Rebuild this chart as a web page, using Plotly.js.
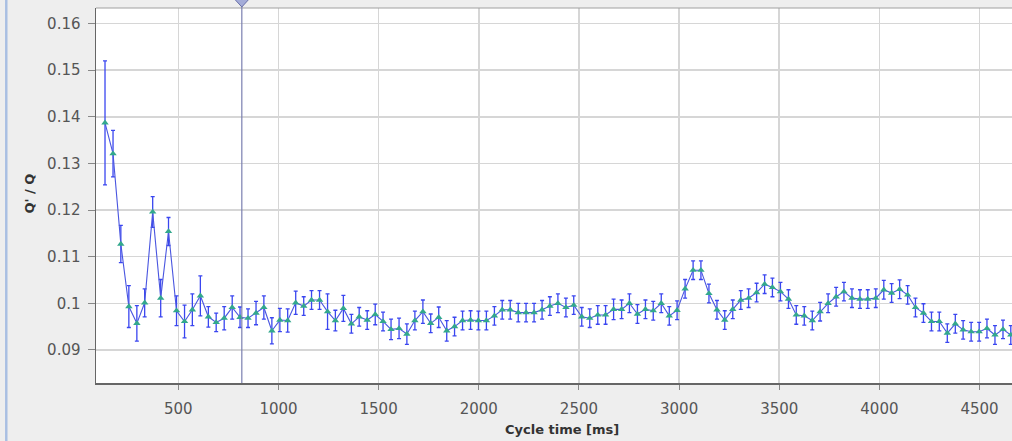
<!DOCTYPE html>
<html>
<head>
<meta charset="utf-8">
<script src="https://cdn.plot.ly/plotly-3.0.1.min.js"></script>
<style>
html,body{margin:0;padding:0;background:#eeeeee;}
#chart{width:1012px;height:441px;}
</style>
</head>
<body>
<div id="chart"></div>
<script>
// Cycle time [ms]
var cycleTime = [134,174,213,253,293,332,372,412,451,491,531,570,610,650,689,729,769,808,848,888,
927,967,1007,1046,1086,1126,1165,1205,1245,1284,1324,1364,1403,1443,1483,1522,1562,1602,1641,1681,
1721,1760,1800,1840,1879,1919,1959,1998,2038,2078,2117,2157,2197,2236,2276,2316,2355,2395,2435,2474,
2514,2554,2594,2633,2673,2713,2752,2792,2832,2871,2911,2951,2990,3030,3070,3109,3149,3189,3228,3268,
3308,3347,3387,3427,3466,3506,3546,3585,3625,3665,3704,3744,3784,3823,3863,3903,3942,3982,4022,4061,
4101,4141,4180,4220,4260,4299,4339,4379,4418,4458,4498,4537,4577,4617,4656];
// Q'/Q
var ratio = [0.1387,0.1321,0.1127,0.0993,0.0957,0.1001,0.1196,0.1011,0.1154,0.0984,
0.0961,0.0986,0.1016,0.0971,0.0959,0.0968,0.0991,0.0970,0.0968,0.0979,
0.0991,0.0941,0.0964,0.0963,0.1001,0.0994,0.1007,0.1007,0.0982,0.0963,
0.0989,0.0956,0.0971,0.0964,0.0976,0.0961,0.0944,0.0946,0.0934,0.0963,
0.0982,0.0957,0.0970,0.0941,0.0950,0.0963,0.0964,0.0963,0.0963,0.0973,
0.0986,0.0986,0.0980,0.0980,0.0980,0.0986,0.0994,0.1000,0.0991,0.0996,
0.0971,0.0968,0.0975,0.0975,0.0987,0.0987,0.1000,0.0977,0.0987,0.0984,
0.1000,0.0973,0.0985,0.1031,0.1071,0.1071,0.1021,0.0986,0.0964,0.0987,
0.1007,0.1011,0.1023,0.1041,0.1034,0.1025,0.1009,0.0975,0.0973,0.0963,
0.0982,0.1000,0.1014,0.1025,0.1011,0.1009,0.1009,0.1011,0.1029,0.1022,
0.1030,0.1018,0.0991,0.0979,0.0961,0.0961,0.0936,0.0956,0.0943,0.0939,
0.0939,0.0946,0.0932,0.0944,0.0932];
// error (+/-)
var ratioErr = [0.0133,0.0050,0.0040,0.0045,0.0038,0.0030,0.0033,0.0040,0.0030,0.0032,
0.0035,0.0034,0.0043,0.0022,0.0020,0.0025,0.0025,0.0022,0.0020,0.0025,
0.0025,0.0028,0.0025,0.0025,0.0025,0.0020,0.0020,0.0020,0.0038,0.0022,
0.0028,0.0020,0.0020,0.0020,0.0022,0.0020,0.0022,0.0022,0.0022,0.0020,
0.0025,0.0020,0.0022,0.0022,0.0020,0.0020,0.0020,0.0020,0.0020,0.0020,
0.0020,0.0020,0.0020,0.0020,0.0020,0.0020,0.0020,0.0020,0.0020,0.0020,
0.0020,0.0020,0.0020,0.0020,0.0022,0.0020,0.0020,0.0020,0.0020,0.0020,
0.0020,0.0020,0.0020,0.0020,0.0020,0.0020,0.0020,0.0020,0.0020,0.0020,
0.0020,0.0020,0.0020,0.0020,0.0020,0.0020,0.0020,0.0020,0.0020,0.0020,
0.0020,0.0020,0.0020,0.0020,0.0020,0.0020,0.0020,0.0020,0.0020,0.0020,
0.0020,0.0020,0.0020,0.0020,0.0020,0.0020,0.0020,0.0020,0.0020,0.0020,
0.0020,0.0020,0.0020,0.0020,0.0020];
// cursor position [ms]
var cursorX = 817;

var xTitle = "Cycle time [ms]";
var yTitle = "Q' / Q";

var traces = [
  {
    x: cycleTime, y: ratio, type: 'scatter', mode: 'lines+markers',
    line: {color: '#4a56e0', width: 1.1},
    marker: {symbol: 'triangle-up', size: 6.5, color: '#33a88c', line: {width: 0}},
    error_y: {type: 'data', array: ratioErr, visible: true, color: '#3a46f0', thickness: 1.3, width: 2},
    hoverinfo: 'skip', showlegend: false
  }
];

// cursor pin (lower half of a diamond sitting on the top edge)
var pinHalfW = 32;   // ms
var pinPath = 'M ' + (cursorX - pinHalfW) + ',1.035 L ' + (cursorX - pinHalfW) + ',1.0213 L ' +
  cursorX + ',1.0027 L ' + (cursorX + pinHalfW) + ',1.0213 L ' + (cursorX + pinHalfW) + ',1.035 Z';

var layout = {
  width: 1012, height: 441,
  margin: {l: 96, r: 0, t: 8, b: 58, pad: 0},
  paper_bgcolor: '#eeeeee',
  plot_bgcolor: '#ffffff',
  showlegend: false,
  font: {family: 'DejaVu Sans, sans-serif', color: '#444444'},
  xaxis: {
    range: [89, 4662], tick0: 0, dtick: 500,
    showgrid: true, gridcolor: '#d6d6d6', gridwidth: 1.5,
    zeroline: false, showline: true, linecolor: '#666666', linewidth: 1.5,
    ticks: 'outside', ticklen: 5, tickcolor: '#888888', tickwidth: 1,
    ticklabelstandoff: 6,
    tickfont: {size: 15, color: '#555555', family: 'DejaVu Sans, sans-serif'}
  },
  yaxis: {
    range: [0.0829, 0.16334], tick0: 0.09, dtick: 0.01,
    showgrid: true, gridcolor: '#d6d6d6', gridwidth: 1.5,
    zeroline: false, showline: true, linecolor: '#666666', linewidth: 1.5,
    ticks: 'outside', ticklen: 7, tickcolor: '#888888', tickwidth: 1,
    ticklabelstandoff: 4,
    tickfont: {size: 15, color: '#555555', family: 'DejaVu Sans, sans-serif'}
  },
  shapes: [
    {type: 'line', xref: 'paper', yref: 'paper', x0: 0, x1: 1, y0: 1, y1: 1,
     line: {color: '#a0a0a0', width: 1}},
    {type: 'line', xref: 'x', yref: 'paper', x0: cursorX, x1: cursorX, y0: 0, y1: 1.02,
     line: {color: '#7a7fb0', width: 1.2}, layer: 'above'},
    {type: 'path', xref: 'x', yref: 'paper', path: pinPath,
     fillcolor: '#a4acd8', line: {color: '#6a70a8', width: 1}, layer: 'above'},
    {type: 'rect', xref: 'paper', yref: 'paper', x0: -0.0993, x1: -0.0966, y0: -0.1547, y1: 1.0213,
     fillcolor: '#a9bfe2', line: {width: 0}}
  ],
  annotations: [
    {text: '<b>' + xTitle + '</b>', xref: 'paper', yref: 'paper', x: 0.5087, y: -0.1253,
     showarrow: false, font: {size: 13, color: '#333333', family: 'DejaVu Sans, sans-serif'},
     xanchor: 'center', yanchor: 'middle'},
    {text: '<b>' + yTitle + '</b>', xref: 'paper', yref: 'paper', x: -0.0726, y: 0.5067,
     showarrow: false, textangle: -90, font: {size: 13, color: '#333333', family: 'DejaVu Sans, sans-serif'},
     xanchor: 'center', yanchor: 'middle'}
  ]
};

Plotly.newPlot('chart', traces, layout, {displayModeBar: false, staticPlot: true});
</script>
</body>
</html>
